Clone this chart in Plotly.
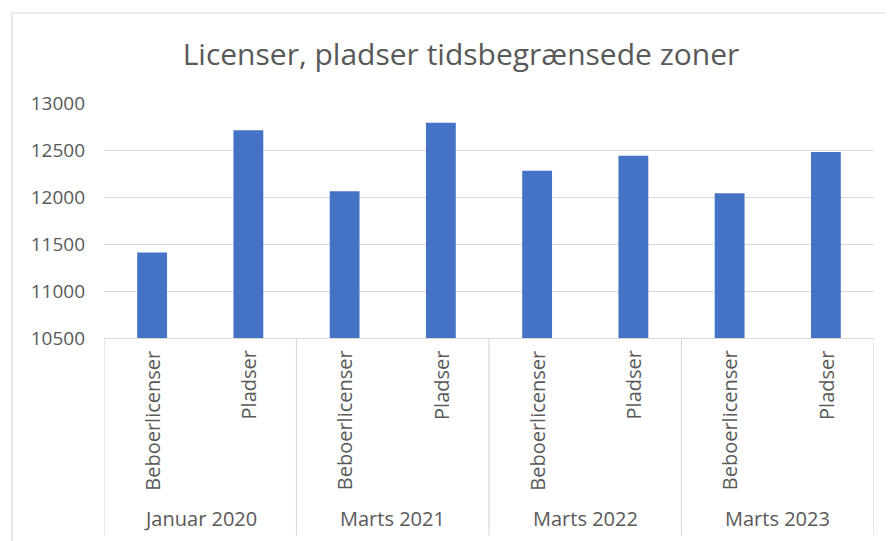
import plotly.graph_objects as go

groups = ["Januar 2020", "Marts 2021", "Marts 2022", "Marts 2023"]
subcats = ["Beboerlicenser", "Pladser"]
values = [11410, 12710, 12060, 12790, 12280, 12440, 12040, 12480]
y_ticks = [10500, 11000, 11500, 12000, 12500, 13000]
y_tick_text = ["10500", "11000", "11500", "12000", "12500", "13000"]

n = len(groups) * len(subcats)
xs = list(range(n))
sub_labels = [s for g in groups for s in subcats]

FONT = "Open Sans"
TXT = "#595959"
GRID = "#D9D9D9"

fig = go.Figure()
fig.add_trace(go.Bar(x=xs, y=values, width=0.31, marker=dict(color="#4472C4", line=dict(width=0)),
                     hoverinfo="y"))

annotations = []
for i, lab in zip(xs, sub_labels):
    annotations.append(dict(x=i, y=-0.045, xref="x", yref="paper", text=lab, textangle=-90,
                            showarrow=False, xanchor="center", yanchor="top",
                            font=dict(family=FONT, size=20, color=TXT)))
for gi, g in enumerate(groups):
    annotations.append(dict(x=gi * 2 + 0.5, y=-0.766, xref="x", yref="paper", text=g,
                            showarrow=False, xanchor="center", yanchor="middle",
                            font=dict(family=FONT, size=20, color=TXT)))

shapes = []
for b in [-0.5, 1.5, 3.5, 5.5, 7.5]:
    shapes.append(dict(type="line", xref="x", yref="paper", x0=b, x1=b, y0=0, y1=-0.84,
                       line=dict(color=GRID, width=1.2)))
# chart border (top and left)
shapes.append(dict(type="line", xref="paper", yref="paper", x0=-0.1195, x1=1.05, y0=1.383, y1=1.383,
                   line=dict(color=GRID, width=1.2)))
shapes.append(dict(type="line", xref="paper", yref="paper", x0=-0.1195, x1=-0.1195, y0=1.383, y1=-0.95,
                   line=dict(color=GRID, width=1.2)))

fig.update_layout(
    width=893, height=541,
    margin=dict(l=96, r=27, t=95, b=211),
    paper_bgcolor="white", plot_bgcolor="white",
    showlegend=False,
    title=dict(text="Licenser, pladser tidsbegrænsede zoner", x=(461 - 8) / 893, xanchor="center",
               y=1 - 46 / 541, yanchor="middle", font=dict(family=FONT, size=30, color=TXT)),
    xaxis=dict(range=[-0.5, 7.5], showticklabels=False, showgrid=False, zeroline=False,
               showline=True, linecolor=GRID, linewidth=1.2, ticks=""),
    yaxis=dict(range=[10500, 13000], tickvals=y_ticks, ticktext=y_tick_text, showgrid=True,
               gridcolor=GRID, gridwidth=1.2,
               zeroline=False, showline=False, ticks="", ticklabelstandoff=18,
               tickfont=dict(family=FONT, size=19, color=TXT)),
    annotations=annotations, shapes=shapes,
)

fig.write_html("out.html")
